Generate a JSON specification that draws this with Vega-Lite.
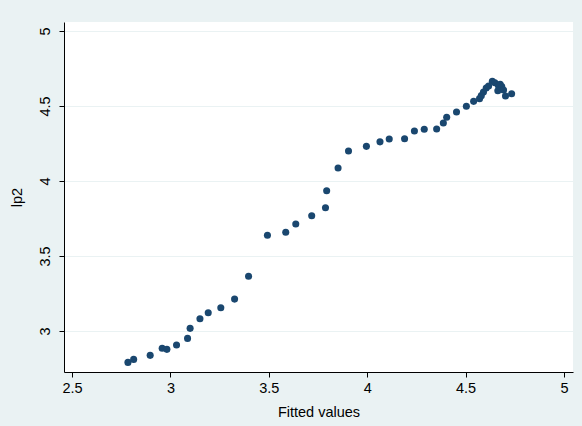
{
  "$schema": "https://vega.github.io/schema/vega-lite/v6.json",
  "width": 509,
  "height": 350,
  "autosize": {"type": "none"},
  "padding": {"left": 64, "top": 22, "right": 9, "bottom": 54},
  "background": "#eaf2f3",
  "config": {
    "view": {"fill": "white", "stroke": null},
    "font": "Liberation Sans",
    "axis": {
      "labelFont": "Liberation Sans",
      "titleFont": "Liberation Sans",
      "labelFontSize": 14.5,
      "titleFontSize": 14.5,
      "labelColor": "#000000",
      "titleColor": "#000000",
      "titleFontWeight": "normal",
      "domainColor": "#000000",
      "tickColor": "#000000",
      "tickSize": 5,
      "gridColor": "#eaf2f3",
      "gridWidth": 1
    }
  },
  "data": {
    "values": [
      {"fitted": 2.784, "lp2": 2.791},
      {"fitted": 2.813, "lp2": 2.811},
      {"fitted": 2.897, "lp2": 2.838},
      {"fitted": 2.958, "lp2": 2.885},
      {"fitted": 2.982, "lp2": 2.878},
      {"fitted": 3.031, "lp2": 2.907},
      {"fitted": 3.087, "lp2": 2.951},
      {"fitted": 3.100, "lp2": 3.018},
      {"fitted": 3.150, "lp2": 3.082},
      {"fitted": 3.192, "lp2": 3.122},
      {"fitted": 3.256, "lp2": 3.155},
      {"fitted": 3.326, "lp2": 3.213},
      {"fitted": 3.397, "lp2": 3.365},
      {"fitted": 3.493, "lp2": 3.638},
      {"fitted": 3.586, "lp2": 3.658},
      {"fitted": 3.637, "lp2": 3.713},
      {"fitted": 3.718, "lp2": 3.769},
      {"fitted": 3.788, "lp2": 3.822},
      {"fitted": 3.794, "lp2": 3.935},
      {"fitted": 3.852, "lp2": 4.087},
      {"fitted": 3.905, "lp2": 4.200},
      {"fitted": 3.996, "lp2": 4.231},
      {"fitted": 4.065, "lp2": 4.261},
      {"fitted": 4.112, "lp2": 4.280},
      {"fitted": 4.190, "lp2": 4.282},
      {"fitted": 4.240, "lp2": 4.333},
      {"fitted": 4.290, "lp2": 4.345},
      {"fitted": 4.353, "lp2": 4.347},
      {"fitted": 4.387, "lp2": 4.387},
      {"fitted": 4.404, "lp2": 4.425},
      {"fitted": 4.454, "lp2": 4.460},
      {"fitted": 4.504, "lp2": 4.498},
      {"fitted": 4.541, "lp2": 4.531},
      {"fitted": 4.571, "lp2": 4.549},
      {"fitted": 4.580, "lp2": 4.569},
      {"fitted": 4.591, "lp2": 4.593},
      {"fitted": 4.605, "lp2": 4.620},
      {"fitted": 4.617, "lp2": 4.633},
      {"fitted": 4.636, "lp2": 4.665},
      {"fitted": 4.649, "lp2": 4.655},
      {"fitted": 4.666, "lp2": 4.638},
      {"fitted": 4.676, "lp2": 4.645},
      {"fitted": 4.684, "lp2": 4.629},
      {"fitted": 4.664, "lp2": 4.602},
      {"fitted": 4.693, "lp2": 4.607},
      {"fitted": 4.703, "lp2": 4.567},
      {"fitted": 4.734, "lp2": 4.582}
    ]
  },
  "mark": {"type": "point", "filled": true, "size": 50, "opacity": 1, "color": "#1a476f"},
  "encoding": {
    "x": {
      "field": "fitted",
      "type": "quantitative",
      "title": "Fitted values",
      "scale": {"domain": [2.459, 5.046], "nice": false, "zero": false},
      "axis": {"values": [2.5, 3, 3.5, 4, 4.5, 5], "grid": false, "labelPadding": 4, "titlePadding": 11, "format": "~g", "labelFlush": false}
    },
    "y": {
      "field": "lp2",
      "type": "quantitative",
      "title": "lp2",
      "scale": {"domain": [2.727, 5.06], "nice": false, "zero": false},
      "axis": {"values": [3, 3.5, 4, 4.5, 5], "grid": true, "labelAngle": -90, "labelAlign": "center", "labelBaseline": "bottom", "labelPadding": 7, "titlePadding": 13, "format": "~g", "labelFlush": false}
    }
  }
}
